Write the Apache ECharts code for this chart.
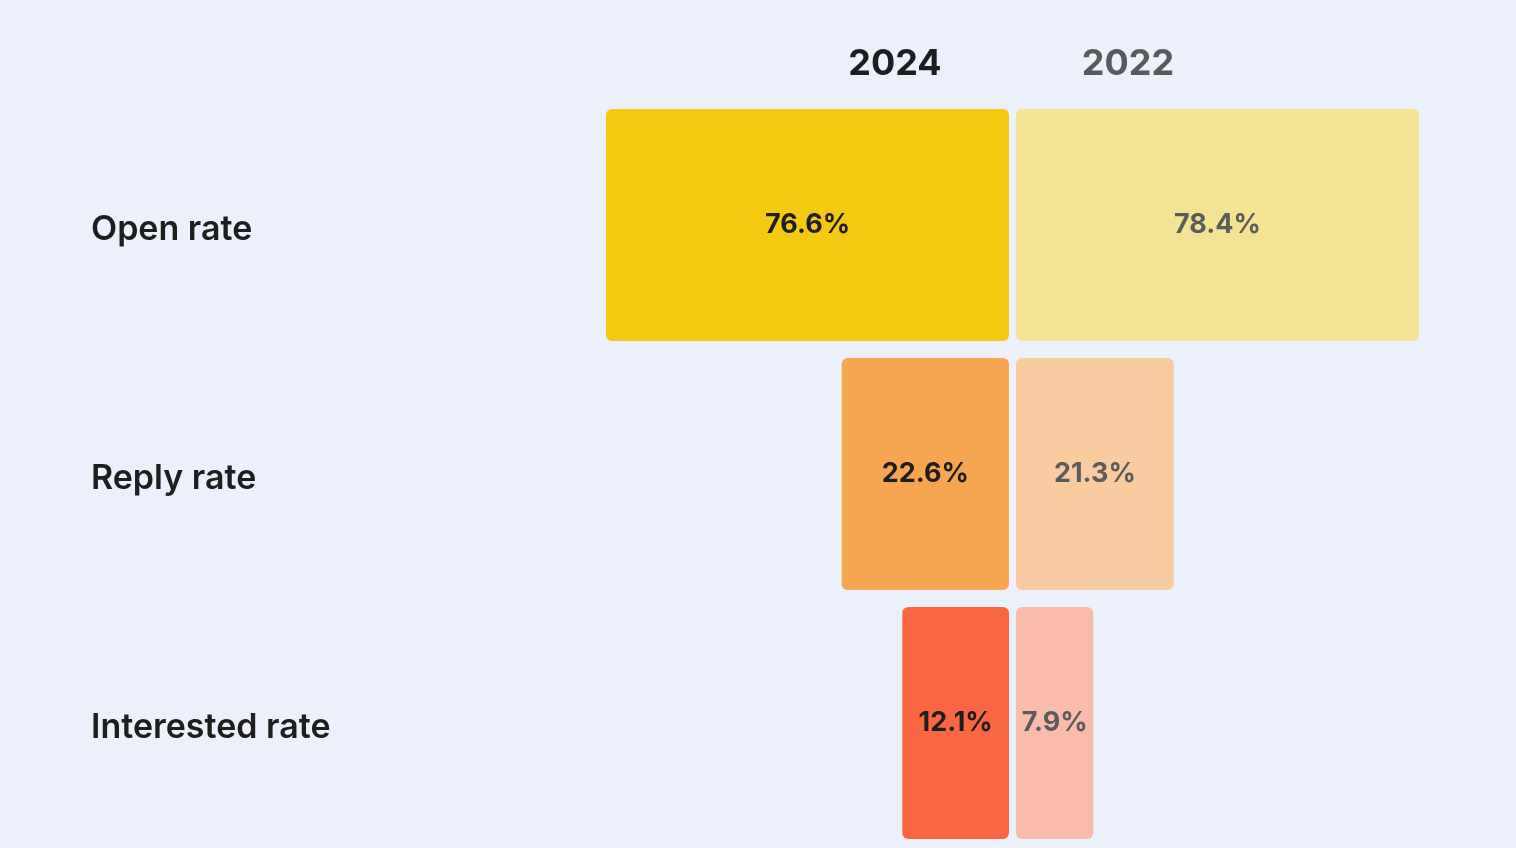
<!DOCTYPE html>
<html>
<head>
<meta charset="utf-8">
<script src="https://cdn.jsdelivr.net/npm/echarts@6/dist/echarts.min.js"></script>
<style>
html,body{margin:0;padding:0;background:#ECF0FB;}
#chart{width:1516px;height:848px;}
</style>
</head>
<body>
<div id="chart"></div>
<script>
const categories = ['Open rate', 'Reply rate', 'Interested rate'];
const years = ['2024', '2022'];
const rate2024 = [76.6, 22.6, 12.1];
const rate2022 = [78.4, 21.3, 7.9];

const colors2024 = ['#F4C912', '#F6A550', '#FA6641'];
const colors2022 = ['#F4E394', '#F8CCA0', '#F9BBAA'];
const lengthExponent = 0.72; // bar length grows as value^0.72 (compressed scale)

const FONT = 'Inter, "Noto Sans", sans-serif';
const scaleLen = v => Math.pow(v, lengthExponent);

function barData(values, colors) {
  return values.map((v, i) => ({
    value: scaleLen(v),
    raw: v,
    itemStyle: { color: colors[i] }
  }));
}

const chart = echarts.init(document.getElementById('chart'));
chart.setOption({
  backgroundColor: '#ECF0FB',
  animation: false,
  graphic: [
    { type: 'text', x: 895, y: 64, style: { text: years[0], font: 'bold 36px ' + FONT, fill: '#1E1E1E', textAlign: 'center', textVerticalAlign: 'middle' } },
    { type: 'text', x: 1128, y: 64, style: { text: years[1], font: 'bold 36px ' + FONT, fill: '#5A5A5A', textAlign: 'center', textVerticalAlign: 'middle' } }
  ],
  grid: [
    { left: 606, width: 403, top: 100.5, bottom: 0.5 },
    { left: 1016, width: 403, top: 100.5, bottom: 0.5 }
  ],
  xAxis: [
    { gridIndex: 0, type: 'value', inverse: true, min: 0, max: scaleLen(Math.max(...rate2024)), show: false },
    { gridIndex: 1, type: 'value', min: 0, max: scaleLen(Math.max(...rate2022)), show: false }
  ],
  yAxis: [
    {
      gridIndex: 0, type: 'category', data: categories, inverse: true, position: 'left',
      axisLine: { show: false, onZero: false }, axisTick: { show: false }, splitLine: { show: false },
      axisLabel: {
        align: 'left', margin: 515,
        formatter: v => '{c|' + v + '}',
        rich: { c: { fontFamily: FONT, fontSize: 34, fontWeight: 600, color: '#1E1E1E', padding: [10, 0, 0, 0] } }
      }
    },
    {
      gridIndex: 1, type: 'category', data: categories, inverse: true, show: false
    }
  ],
  series: [
    {
      type: 'bar', xAxisIndex: 0, yAxisIndex: 0, barWidth: 232,
      data: barData(rate2024, colors2024),
      itemStyle: { borderRadius: 6 },
      label: { show: true, position: 'inside', formatter: p => p.data.raw.toFixed(1) + '%', fontFamily: FONT, fontSize: 27, fontWeight: 'bold', color: '#1E1E1E' }
    },
    {
      type: 'bar', xAxisIndex: 1, yAxisIndex: 1, barWidth: 232,
      data: barData(rate2022, colors2022),
      itemStyle: { borderRadius: 6 },
      label: { show: true, position: 'inside', formatter: p => p.data.raw.toFixed(1) + '%', fontFamily: FONT, fontSize: 27, fontWeight: 'bold', color: '#5C5C5C' }
    }
  ]
});
</script>
</body>
</html>
